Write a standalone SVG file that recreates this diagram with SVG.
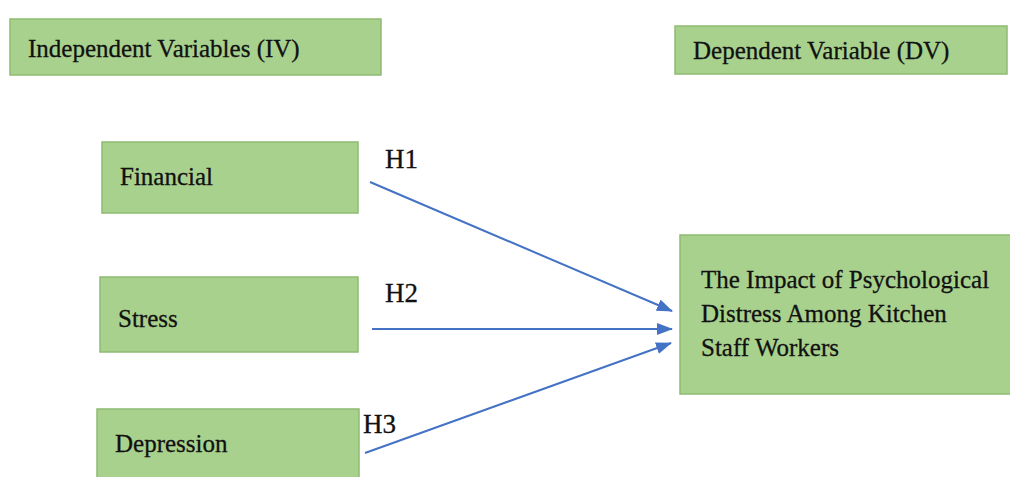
<svg xmlns="http://www.w3.org/2000/svg" width="1010" height="477" viewBox="0 0 1010 477">
<style>
.box{fill:#a9d18e;stroke:#8fba72;stroke-width:1.5}
.t{font-family:"Liberation Serif","Times New Roman",serif;font-size:25px;fill:#111;stroke:#111;stroke-width:0.3}
.h{font-family:"Liberation Serif","Times New Roman",serif;font-size:27px;fill:#111;stroke:#111;stroke-width:0.3}
.c{stroke:#4472c4;stroke-width:2;fill:none}
</style>
<defs>
<marker id="ah" markerWidth="16" markerHeight="12" refX="15" refY="6" orient="auto" markerUnits="userSpaceOnUse">
<path d="M0,0 L16,6 L0,12 Z" fill="#4472c4"/>
</marker>
</defs>
<rect width="1010" height="477" fill="#fff"/>
<g id="iv-header"><rect class="box" x="10" y="19" width="371" height="56"/><text class="t" x="28" y="57">Independent Variables (IV)</text></g>
<g id="dv-header"><rect class="box" x="675" y="26" width="332" height="48"/><text class="t" x="693" y="59">Dependent Variable (DV)</text></g>
<g id="financial"><rect class="box" x="102" y="142" width="256" height="71"/><text class="t" x="120" y="185">Financial</text></g>
<g id="stress"><rect class="box" x="100" y="277" width="258" height="75"/><text class="t" x="118" y="327">Stress</text></g>
<g id="depression"><rect class="box" x="97" y="409" width="262" height="75"/><text class="t" x="115" y="452">Depression</text></g>
<g id="dv"><rect class="box" x="680" y="235" width="335" height="159"/>
<text class="t" x="701" y="288">The Impact of Psychological</text>
<text class="t" x="701" y="322">Distress Among Kitchen</text>
<text class="t" x="701" y="356">Staff Workers</text></g>
<g id="connectors">
<line class="c" x1="370" y1="182" x2="672" y2="311" marker-end="url(#ah)"/>
<line class="c" x1="372" y1="329" x2="672" y2="329" marker-end="url(#ah)"/>
<line class="c" x1="365" y1="453" x2="671" y2="343" marker-end="url(#ah)"/>
<text class="h" x="385" y="168">H1</text>
<text class="h" x="385" y="302">H2</text>
<text class="h" x="363" y="433">H3</text>
</g>
</svg>
